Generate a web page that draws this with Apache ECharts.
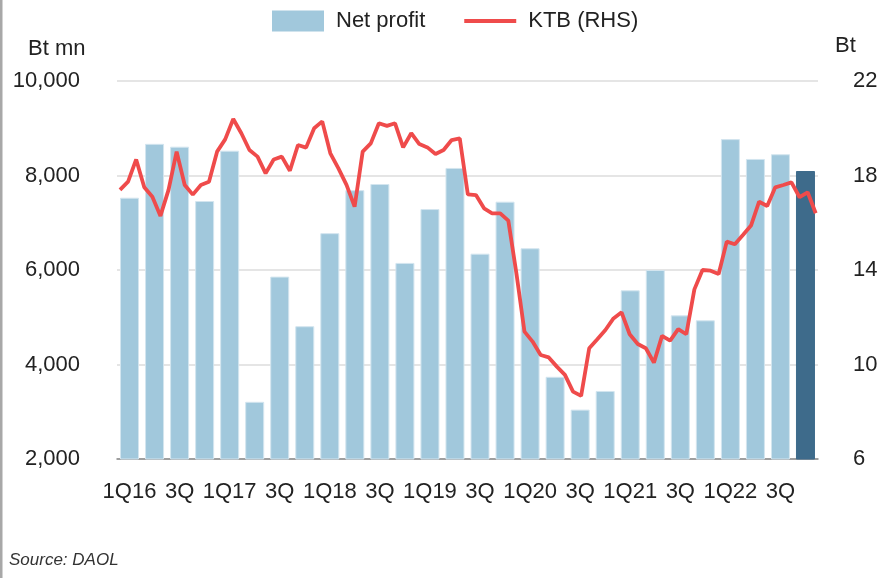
<!DOCTYPE html>
<html lang="en">
<head>
    <meta charset="UTF-8">
    <title>KTB net profit</title>
    <script src="https://cdn.jsdelivr.net/npm/echarts@6/dist/echarts.min.js"></script>
    <style>
        html, body { margin: 0; padding: 0; background: #fff; }
        #chart { width: 896px; height: 578px; }
    </style>
</head>
<body>
<div id="chart"></div>
<script type="text/javascript">
    // quarterly net profit (Bt mn), 1Q16 - 4Q22
    var quarters = ['1Q16', '2Q', '3Q', '4Q', '1Q17', '2Q', '3Q', '4Q', '1Q18', '2Q', '3Q', '4Q',
        '1Q19', '2Q', '3Q', '4Q', '1Q20', '2Q', '3Q', '4Q', '1Q21', '2Q', '3Q', '4Q',
        '1Q22', '2Q', '3Q', '4Q'];
    var netProfit = [7530, 8670, 8610, 7460, 8525, 3210, 5860, 4810, 6780, 7690, 7820, 6150,
        7290, 8160, 6345, 7446, 6460, 3740, 3045, 3440, 5570, 6000, 5040, 4935,
        8770, 8350, 8450, 8095];

    // KTB share price (Bt), monthly points, right axis
    var ktbPrice = [17.39, 17.74, 18.68, 17.50, 17.10, 16.29, 17.39, 19.01, 17.60, 17.19,
        17.60, 17.74, 19.01, 19.53, 20.39, 19.79, 19.08, 18.80, 18.09, 18.68,
        18.80, 18.20, 19.29, 19.18, 20.00, 20.29, 18.94, 18.30, 17.60, 16.68,
        19.01, 19.36, 20.21, 20.10, 20.21, 19.19, 19.79, 19.33, 19.19, 18.91,
        19.08, 19.50, 19.57, 17.20, 17.17, 16.61, 16.40, 16.40, 16.09, 13.86,
        11.39, 10.97, 10.40, 10.30, 9.91, 9.56, 8.85, 8.67, 10.69, 11.07,
        11.46, 11.95, 12.21, 11.28, 10.87, 10.69, 10.08, 11.21, 11.01, 11.50,
        11.28, 13.18, 14.00, 13.97, 13.83, 15.20, 15.09, 15.48, 15.88, 16.89,
        16.71, 17.50, 17.60, 17.71, 17.08, 17.29, 16.40];

    var leftAxis = {min: 2000, max: 10000, step: 2000};
    var rightAxis = {min: 6, max: 22, step: 4};

    var barColor = '#a1c8dc';
    var lastBarColor = '#3e6b8b';
    var lineColor = '#ef4b4b';
    var font = 'Liberation Sans, Arial, sans-serif';

    // thin bar in a 52x21 box, used as the legend mark of the line
    var lineIcon = 'path://M0,0 L52,0 L52,0.01 L0,0.01 Z M0,8.6 L52,8.6 L52,12.4 L0,12.4 Z M0,21 L52,21 L52,21.01 L0,21.01 Z';

    var chart = echarts.init(document.getElementById('chart'));

    var option = {
        animation: false,
        backgroundColor: '#fff',
        textStyle: {fontFamily: font, color: '#222'},
        grid: {left: 117, right: 78, top: 81, bottom: 119},
        legend: {
            left: 272,
            top: 10,
            padding: 0,
            itemWidth: 52,
            itemHeight: 21,
            itemGap: 39,
            textStyle: {fontSize: 22, color: '#222', padding: [0, 0, 0, 7]},
            data: [
                {name: 'Net profit', icon: 'rect', itemStyle: {borderWidth: 0}},
                {name: 'KTB (RHS)', icon: lineIcon, itemStyle: {color: lineColor, borderWidth: 0}}
            ]
        },
        graphic: [
            {type: 'rect', left: 0, top: 0, shape: {width: 2.5, height: 578}, style: {fill: '#a8a8a8'}},
            {type: 'text', left: 28, top: 38, style: {text: 'Bt mn', font: '22px ' + font, fill: '#222'}},
            {type: 'text', left: 835, top: 35, style: {text: 'Bt', font: '22px ' + font, fill: '#222'}},
            {type: 'text', left: 9, top: 552, style: {text: 'Source: DAOL', font: 'italic 17px ' + font, fill: '#333'}}
        ],
        xAxis: [{
            type: 'category',
            data: quarters,
            axisLine: {lineStyle: {color: '#888', width: 1.5}},
            axisTick: {interval: 0, length: 10, lineStyle: {color: '#888', width: 1.5}},
            axisLabel: {interval: 1, margin: 22, fontSize: 22, color: '#222'}
        }, {
            type: 'value',
            show: false,
            min: -0.37,
            max: 86.28
        }],
        yAxis: [{
            type: 'value',
            min: leftAxis.min,
            max: leftAxis.max,
            interval: leftAxis.step,
            axisLine: {show: false},
            axisTick: {show: false},
            splitLine: {lineStyle: {color: '#dcdcdc', width: 1.5}},
            axisLabel: {
                margin: 37, fontSize: 22, color: '#222',
                formatter: function (v) { return v.toLocaleString('en-US'); }
            }
        }, {
            type: 'value',
            min: rightAxis.min,
            max: rightAxis.max,
            interval: rightAxis.step,
            axisLine: {show: false},
            axisTick: {show: false},
            splitLine: {show: false},
            axisLabel: {margin: 35, fontSize: 22, color: '#222'}
        }],
        series: [{
            name: 'Net profit',
            type: 'bar',
            barWidth: 19,
            itemStyle: {color: barColor, borderColor: '#d3e5ef', borderWidth: 1},
            data: netProfit.map(function (v, i) {
                if (i === netProfit.length - 1) {
                    return {value: v, itemStyle: {color: lastBarColor, borderColor: lastBarColor}};
                }
                return v;
            })
        }, {
            name: 'KTB (RHS)',
            type: 'line',
            xAxisIndex: 1,
            yAxisIndex: 1,
            symbol: 'none',
            z: 10,
            itemStyle: {color: lineColor},
            lineStyle: {color: lineColor, width: 3.8},
            data: ktbPrice.map(function (v, i) { return [i, v]; })
        }]
    };

    chart.setOption(option);
</script>
</body>
</html>
